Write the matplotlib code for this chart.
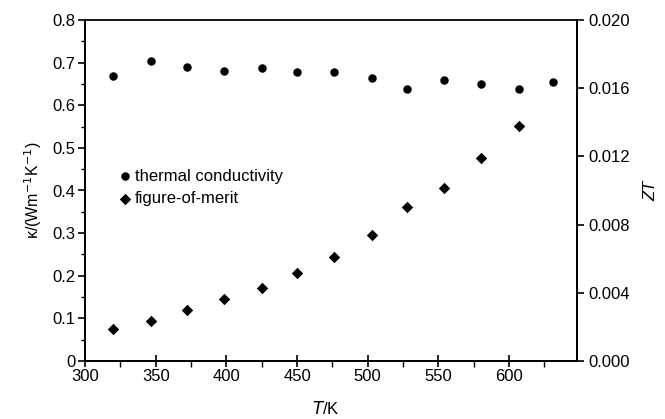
import numpy as np
import matplotlib
matplotlib.use('Agg')
import matplotlib.pyplot as plt
from matplotlib.ticker import MultipleLocator, FormatStrFormatter

plt.rcParams['font.family'] = ['Liberation Sans', 'DejaVu Sans']

# данные
T_kappa = [320, 347, 372, 398, 425, 450, 476, 503, 528, 554, 580, 607, 631]
kappa = [0.668, 0.703, 0.690, 0.680, 0.687, 0.677, 0.677, 0.665, 0.637, 0.659, 0.651, 0.637, 0.655]

T_zt = [320, 347, 372, 398, 425, 450, 476, 503, 528, 554, 580, 607]
zt = [0.00186, 0.00233, 0.00297, 0.00362, 0.00428, 0.00514, 0.00612, 0.00737,
      0.00905, 0.01016, 0.01192, 0.0138]

fig = plt.figure(figsize=(6.65, 4.19), dpi=100)
ax = fig.add_axes([85 / 665, 1 - 361 / 419, (577 - 85) / 665, (361 - 20) / 419])
ax2 = ax.twinx()

p1 = ax.scatter(T_kappa, kappa, s=37, marker='o', color='black', linewidths=0,
                label='thermal conductivity', zorder=3)
p2 = ax2.scatter(T_zt, zt, s=34, marker='D', color='black', linewidths=0,
                 label='figure-of-merit', zorder=3)

ax.set_xlim(300, 648)
ax.set_ylim(0, 0.8)
ax2.set_ylim(0, 0.020)

ax.xaxis.set_major_locator(MultipleLocator(50))
ax.xaxis.set_minor_locator(MultipleLocator(25))
ax.yaxis.set_major_locator(MultipleLocator(0.1))
ax.yaxis.set_minor_locator(MultipleLocator(0.05))
ax.yaxis.set_major_formatter(FormatStrFormatter('%g'))
ax2.yaxis.set_major_locator(MultipleLocator(0.004))
ax2.yaxis.set_major_formatter(FormatStrFormatter('%.3f'))

for a in (ax, ax2):
    for s in a.spines.values():
        s.set_linewidth(1.3)
    a.spines['top'].set_visible(False)

ax.tick_params(axis='x', which='major', direction='inout', length=8, width=1.2,
               labelsize=12, pad=2)
ax.tick_params(axis='x', which='minor', direction='out', length=4, width=1.0)
ax.tick_params(axis='y', which='major', direction='out', length=5, width=1.2,
               labelsize=12, pad=2)
ax.tick_params(axis='y', which='minor', direction='out', length=3, width=1.0)
ax2.tick_params(axis='y', which='major', direction='out', length=5, width=1.2,
                labelsize=12, pad=3)

# верхняя рамка
ax.plot([0, 1], [1, 1], transform=ax.transAxes, color='black', lw=1.3, clip_on=False)

ax.set_xlabel(r'$\mathit{T}$/K', fontsize=12)
ax.xaxis.set_label_coords(0.49, -0.115)
ax.set_ylabel('κ/(Wm$^{-1}$K$^{-1}$)', fontsize=11.5, labelpad=6)
ax2.set_ylabel('ZT', fontsize=12, style='italic', labelpad=10)

ax.legend([p1, p2], ['thermal conductivity', 'figure-of-merit'], frameon=False,
          loc='center left', bbox_to_anchor=(0.072, 0.509), fontsize=12,
          handlelength=0.6, handletextpad=0.25, labelspacing=0.45,
          borderpad=0, borderaxespad=0, markerscale=1.0)

fig.savefig('out.png', dpi=100)
